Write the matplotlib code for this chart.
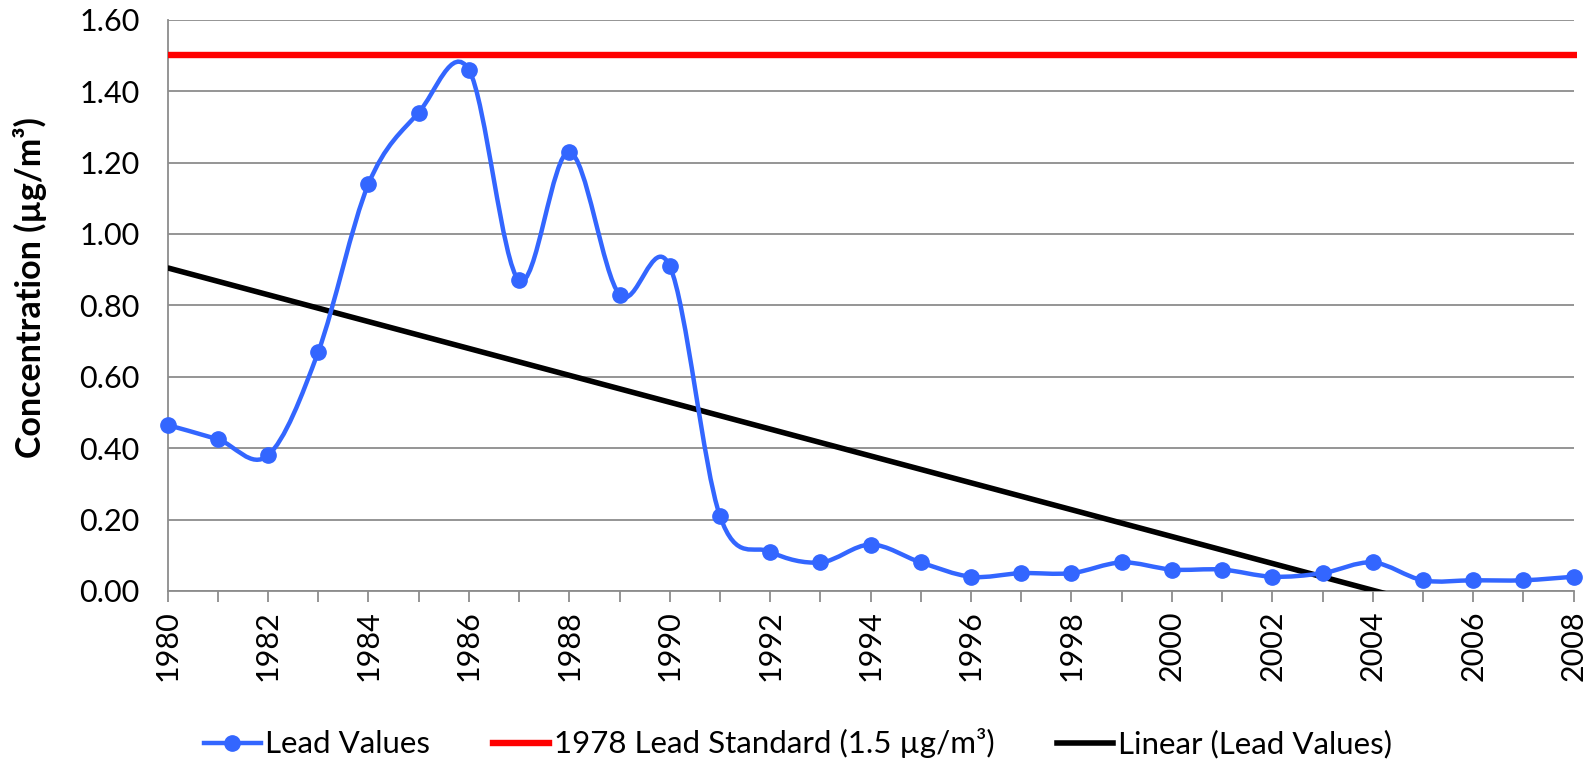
import numpy as np
import matplotlib
matplotlib.use("Agg")
import matplotlib.pyplot as plt
from matplotlib.path import Path
from matplotlib.patches import PathPatch
from matplotlib.lines import Line2D

plt.rcParams['font.family'] = ['Lato', 'DejaVu Sans']

# data
years = list(range(1980, 2009))
lead = [0.465, 0.425, 0.38, 0.67, 1.14, 1.34, 1.46, 0.87, 1.23, 0.83,
        0.91, 0.21, 0.11, 0.08, 0.13, 0.08, 0.04, 0.05, 0.05, 0.08,
        0.06, 0.06, 0.04, 0.05, 0.08, 0.03, 0.03, 0.03, 0.04]
standard = 1.5
y_ticks = [0.0, 0.2, 0.4, 0.6, 0.8, 1.0, 1.2, 1.4, 1.6]
x_labels = list(range(1980, 2009, 2))

blue = '#3366ff'


# smoothed line like the spreadsheet one (bezier segments, catmull-rom control points)
def smooth_path(x, y):
    pts = np.column_stack([x, y]).astype(float)
    n = len(pts)
    verts = [pts[0]]
    codes = [Path.MOVETO]
    for i in range(n - 1):
        p0 = pts[max(i - 1, 0)]
        p1 = pts[i]
        p2 = pts[i + 1]
        p3 = pts[min(i + 2, n - 1)]
        c1 = p1 + (p2 - p0) / 6
        c2 = p2 - (p3 - p1) / 6
        verts += [c1, c2, p2]
        codes += [Path.CURVE4] * 3
    return Path(verts, codes)


fig = plt.figure(figsize=(15.96, 7.61), dpi=100)
ax = fig.add_axes([0.105, 0.2234, 0.881, 0.7506])

ax.set_xlim(years[0], years[-1])
ax.set_ylim(0, 1.6)

# trend line
coef = np.polyfit(years, lead, 1)
tx = np.array([years[0], years[-1]])
ax.plot(tx, np.polyval(coef, tx), color='black', lw=4, zorder=3,
        solid_capstyle='butt')

# standard line
ax.plot([years[0], years[-1] + 0.06], [standard, standard], color='#ff0000',
        lw=4.6, zorder=3, clip_on=False, solid_capstyle='butt')

# lead values
ax.add_patch(PathPatch(smooth_path(years, lead), facecolor='none',
                       edgecolor=blue, lw=3.2, zorder=4))
ax.plot(years, lead, 'o', color=blue, ms=11, zorder=5, clip_on=False)

ax.set_yticks(y_ticks)
ax.set_yticklabels(['%.2f' % v for v in y_ticks])
ax.set_xticks(x_labels)
ax.set_xticklabels([str(v) for v in x_labels], rotation=90)
ax.set_xticks(years, minor=True)

ax.grid(axis='y', color='#8c8c8c', lw=1.3)
ax.set_axisbelow(True)
for s in ['top', 'right']:
    ax.spines[s].set_visible(False)
for s in ['left', 'bottom']:
    ax.spines[s].set_color('#8c8c8c')
    ax.spines[s].set_linewidth(1.3)

ax.tick_params(axis='y', length=0, pad=20, labelsize=22)
ax.tick_params(axis='x', which='both', direction='out', length=8,
               color='#8c8c8c', width=1.3, labelsize=22, pad=6)

ax.set_ylabel('Concentration (µg/m³)', fontsize=24.5, fontweight='bold',
              va='center')
ax.yaxis.set_label_coords(-0.098, 0.531)

handles = [
    Line2D([], [], color=blue, lw=3.2, marker='o', ms=11),
    Line2D([], [], color='#ff0000', lw=4.6),
    Line2D([], [], color='black', lw=4),
]
labels = ['Lead Values', '1978 Lead Standard (1.5 µg/m³)', 'Linear (Lead Values)']
fig.legend(handles, labels, loc='center', bbox_to_anchor=(0.5, 0.023),
           ncol=3, frameon=False, fontsize=22.5, handlelength=1.8,
           handletextpad=0.15, columnspacing=2.0)

fig.savefig('out.png', dpi=100)
